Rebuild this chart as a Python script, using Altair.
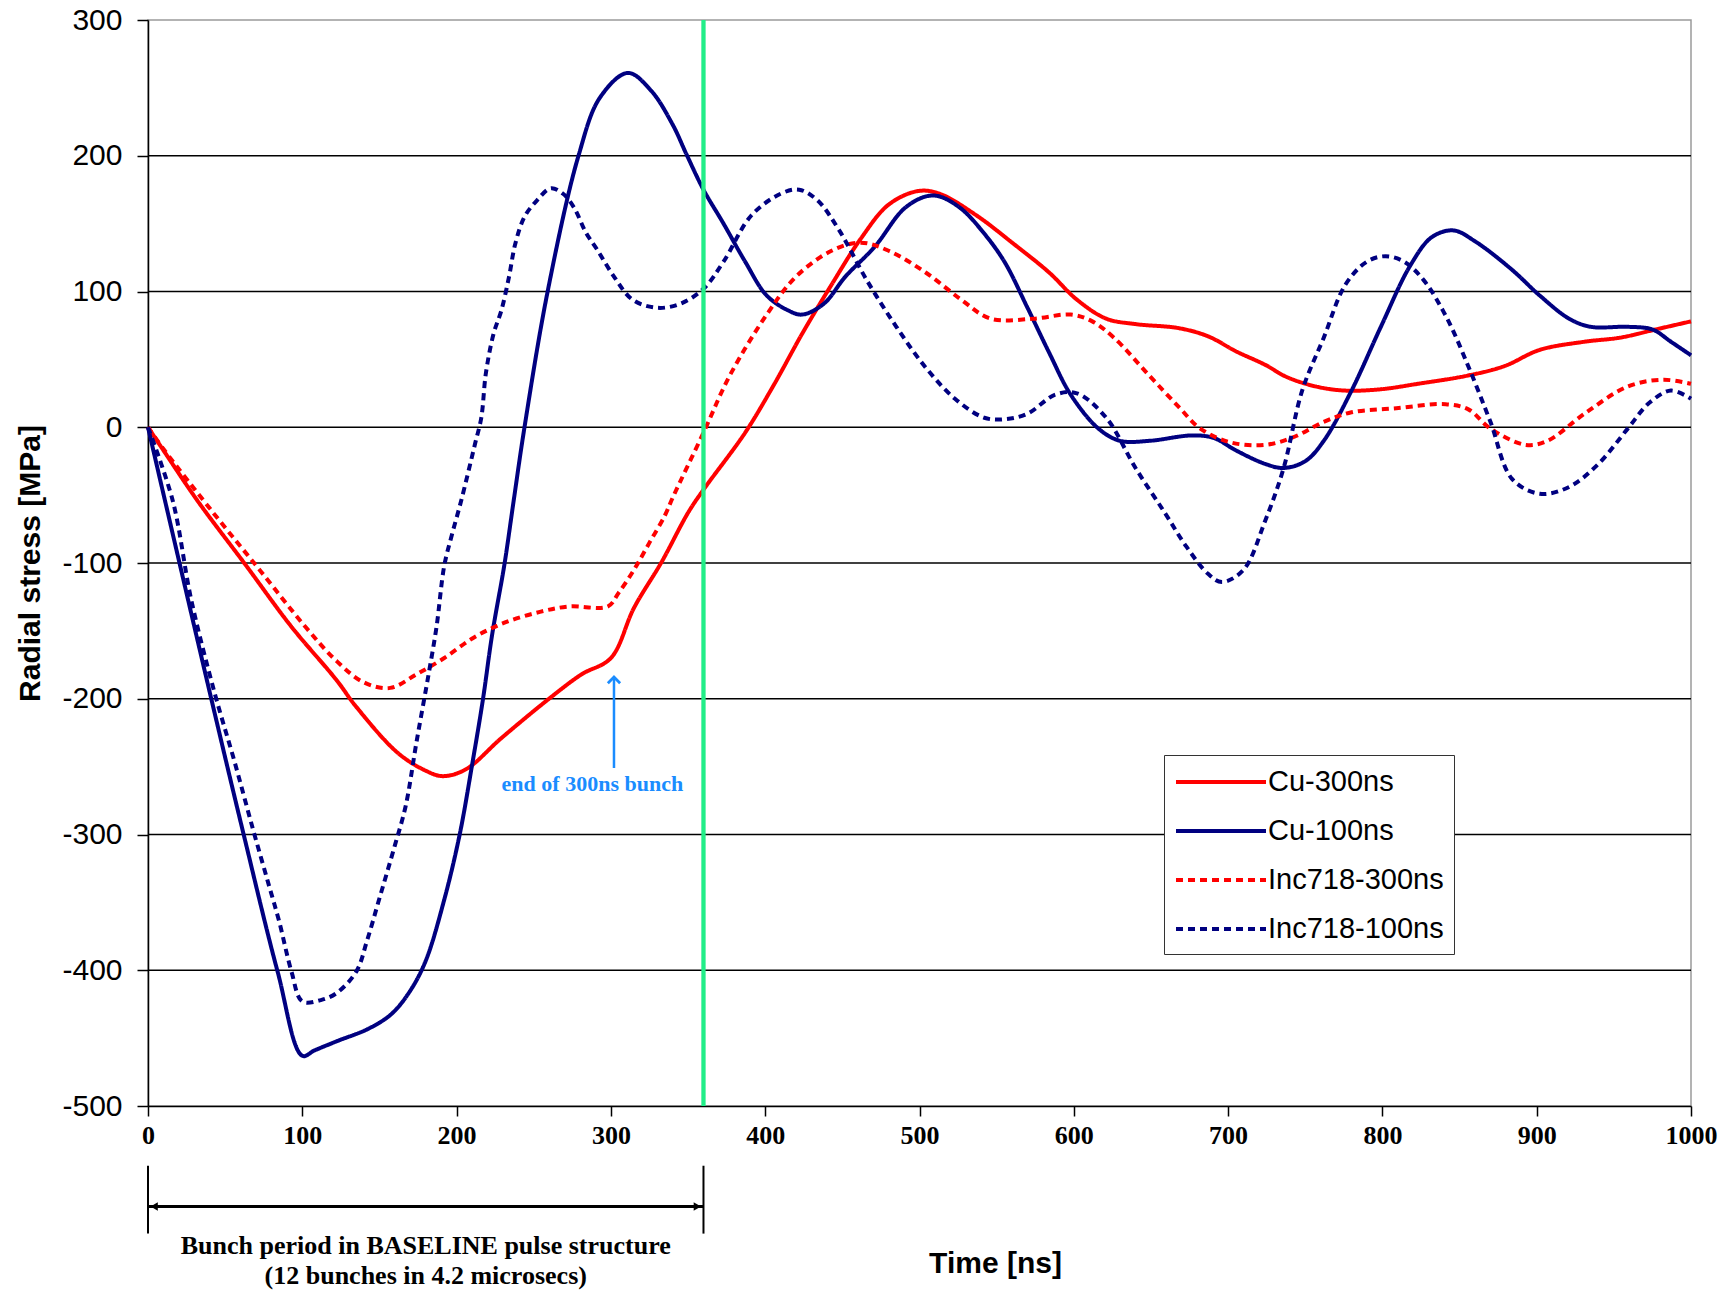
import altair as alt
import pandas as pd

# ---------------- data ----------------
cu300_x = [0, 10, 32, 63, 93, 122, 135, 162, 180, 191, 206, 229, 261, 281, 300, 315, 333, 350, 360,
           387, 406, 424, 443, 462, 480, 499, 513, 537, 560, 584, 602, 621, 640, 668, 687, 705, 724,
           738, 757, 776, 799, 823, 855, 879, 902, 931, 954, 977, 1000]
cu300_y = [0, -17, -54, -101, -147, -186, -206, -240, -253, -257, -252, -229, -199, -182, -170, -133, -99, -63, -46,
           -4, 32, 69, 105, 139, 164, 174, 172, 156, 136, 114, 94, 80, 76, 73, 67, 56, 46,
           37, 30, 27, 28, 32, 38, 45, 57, 63, 66, 72, 78]

cu100_x = [0, 11, 41, 62, 84, 100, 108, 123, 143, 158, 170, 180, 192, 202, 210, 217, 223, 231, 237, 244,
           259, 279, 293, 311, 326, 340, 349, 360, 373, 387, 401, 415, 424, 438, 452, 471, 490, 504, 513,
           527, 541, 555, 570, 584, 598, 616, 630, 649, 677, 691, 705, 724, 736, 750, 762, 780, 799, 818,
           832, 846, 860, 884, 902, 921, 935, 959, 975, 987, 1000]
cu100_y = [0, -54, -200, -300, -401, -463, -459, -452, -443, -432, -415, -393, -348, -300, -249, -201, -153, -101, -54, 0,
           100, 200, 243, 261, 248, 223, 201, 175, 150, 122, 97, 86, 83, 91, 111, 133, 161, 170, 170,
           161, 144, 122, 88, 55, 24, -1, -10, -10, -6, -8, -17, -27, -30, -25, -10, 27, 74, 119,
           140, 145, 137, 116, 97, 80, 74, 74, 72, 63, 53]

inc300_x = [0, 10, 43, 73, 102, 122, 140, 157, 174, 192, 211, 231, 254, 273, 298, 305, 315, 325, 335, 340,
            360, 377, 401, 420, 443, 462, 480, 504, 527, 546, 574, 598, 612, 626, 649, 668, 682, 701, 724,
            743, 762, 780, 809, 841, 856, 870, 893, 907, 931, 959, 982, 1000]
inc300_y = [0, -16, -64, -106, -147, -172, -188, -192, -182, -170, -155, -144, -136, -132, -132, -122, -105, -85, -65, -52,
            -4, 38, 83, 111, 130, 136, 130, 114, 94, 80, 80, 83, 78, 66, 38, 15, -1, -11, -13,
            -7, 4, 11, 14, 17, 13, -1, -13, -10, 10, 30, 35, 32]

inc100_x = [0, 16, 28, 43, 56, 68, 78, 85, 93, 100, 112, 122, 135, 142, 150, 160, 167, 174, 182, 187, 192,
            197, 203, 212, 216, 219, 224, 229, 234, 238, 244, 252, 261, 269, 276, 284, 291, 302, 314, 330,
            345, 360, 373, 391, 410, 422, 434, 448, 466, 485, 504, 523, 542, 556, 570, 588, 602, 621, 640,
            659, 673, 687, 696, 710, 724, 736, 748, 762, 776, 790, 802, 814, 827, 842, 856, 870, 884, 902,
            921, 940, 959, 973, 987, 1000]
inc100_y = [0, -54, -127, -195, -246, -296, -336, -364, -401, -423, -422, -417, -401, -378, -347, -308, -279, -232, -181, -147, -102,
            -79, -54, -12, 7, 40, 69, 86, 111, 135, 155, 167, 176, 172, 162, 143, 131, 111, 94, 88,
            91, 102, 122, 156, 172, 175, 167, 145, 108, 74, 44, 21, 7, 6, 10, 24, 25, 7, -30,
            -63, -88, -108, -114, -105, -69, -30, 27, 66, 105, 122, 126, 122, 108, 80, 44, 4, -38, -49,
            -44, -27, -1, 18, 27, 21]

series_names = ["Cu-300ns", "Cu-100ns", "Inc718-300ns", "Inc718-100ns"]
series_colors = ["#FF0000", "#000080", "#FF0000", "#000080"]
series_dash = [[1, 0], [1, 0], [7, 5], [7, 5]]

x_ticks = list(range(0, 1001, 100))
y_ticks = list(range(-500, 301, 100))
grid_values = [-400, -300, -200, -100, 0, 100, 200]

bunch_end = 360            # green line, ns
arrow_x = [302]            # "end of 300ns bunch" arrow
arrow_tip = [-184]
arrow_base = [-251]
arrow_label = ["end of 300ns bunch"]
arrow_label_x = [288]
arrow_label_y = [-263]

bracket_start = 0
bracket_end = 360
bracket_level = -574
bracket_top = -544
bracket_bottom = -594
bracket_text = ["Bunch period in BASELINE pulse structure", "(12 bunches in 4.2 microsecs)"]
bracket_text_y = [-603, -625]

# ---------------- build tables ----------------
rows = []
for name, xs, ys in [("Cu-300ns", cu300_x, cu300_y), ("Cu-100ns", cu100_x, cu100_y),
                     ("Inc718-300ns", inc300_x, inc300_y), ("Inc718-100ns", inc100_x, inc100_y)]:
    for i, (xv, yv) in enumerate(zip(xs, ys)):
        rows.append({"series": name, "t": xv, "stress": yv, "order": i})
df = pd.DataFrame(rows)

xscale = alt.Scale(domain=[0, 1000], nice=False, zero=False)
yscale = alt.Scale(domain=[-500, 300], nice=False, zero=False)

xaxis = alt.Axis(values=x_ticks, grid=False, tickSize=10, tickWidth=1.5, tickColor="black",
                 domainColor="black", domainWidth=1.5, labelExpr="'' + datum.value",
                 labelFlush=False, labelOverlap=False,
                 labelFont="Liberation Serif", labelFontWeight="bold", labelFontSize=26,
                 labelColor="black", labelPadding=6,
                 title="Time [ns]", titleFont="Liberation Sans", titleFontWeight="bold",
                 titleFontSize=30, titleColor="black", titleX=847, titleY=157,
                 titleAlign="center", titleBaseline="middle", titleAnchor="start")
yaxis = alt.Axis(values=y_ticks, grid=False, tickSize=11, tickWidth=1.5, tickColor="black",
                 domainColor="black", domainWidth=1.5, labelExpr="'' + datum.value",
                 labelFlush=False, labelOverlap=False,
                 labelFont="Liberation Sans", labelFontSize=30, labelColor="black", labelPadding=15,
                 title="Radial stress [MPa]", titleFont="Liberation Sans", titleFontWeight="bold",
                 titleFontSize=30, titleColor="black", titleX=-118, titleY=543,
                 titleAlign="center", titleBaseline="middle", titleAngle=270, titleAnchor="start")

grid = alt.Chart(pd.DataFrame({"g": grid_values})).mark_rule(color="black", strokeWidth=1.5).encode(
    y=alt.Y("g:Q", scale=yscale, axis=yaxis)
)

lines = alt.Chart(df).mark_line(strokeWidth=4, strokeCap="butt", strokeJoin="round",
                                interpolate="catmull-rom").encode(
    x=alt.X("t:Q", scale=xscale, axis=xaxis),
    y=alt.Y("stress:Q", scale=yscale, axis=yaxis),
    color=alt.Color("series:N", scale=alt.Scale(domain=series_names, range=series_colors), title=None),
    strokeDash=alt.StrokeDash("series:N", scale=alt.Scale(domain=series_names, range=series_dash), title=None),
    order="order:Q",
)

green = alt.Chart(pd.DataFrame({"t": [bunch_end]})).mark_rule(color="#22EE88", strokeWidth=4.3).encode(
    x=alt.X("t:Q", scale=xscale)
)

ann = pd.DataFrame({"x": arrow_x, "tip": arrow_tip, "base": arrow_base,
                    "label": arrow_label, "lx": arrow_label_x, "ly": arrow_label_y})
arrow_line = alt.Chart(ann).mark_rule(color="#1A8CFF", strokeWidth=2.5).encode(
    x=alt.X("x:Q", scale=xscale), y=alt.Y("tip:Q", scale=yscale), y2="base:Q"
)
arrow_head = alt.Chart(ann).mark_point(shape="M-1,1L0,0L1,1", size=150, color="#1A8CFF",
                                       filled=False, strokeWidth=2.8, opacity=1).encode(
    x=alt.X("x:Q", scale=xscale), y=alt.Y("tip:Q", scale=yscale)
)
arrow_text = alt.Chart(ann).mark_text(font="Liberation Serif", fontWeight="bold", fontSize=22,
                                      color="#1A8CFF", baseline="middle", align="center").encode(
    x=alt.X("lx:Q", scale=xscale), y=alt.Y("ly:Q", scale=yscale), text="label:N"
)

br = pd.DataFrame({"x1": [bracket_start], "x2": [bracket_end], "y": [bracket_level]})
bracket_h = alt.Chart(br).mark_rule(color="black", strokeWidth=3).encode(
    x=alt.X("x1:Q", scale=xscale), x2="x2:Q", y=alt.Y("y:Q", scale=yscale)
)
brv = pd.DataFrame({"x": [bracket_start, bracket_end], "y1": [bracket_top] * 2, "y2": [bracket_bottom] * 2})
bracket_v = alt.Chart(brv).mark_rule(color="black", strokeWidth=2).encode(
    x=alt.X("x:Q", scale=xscale), y=alt.Y("y1:Q", scale=yscale), y2="y2:Q"
)
brh = pd.DataFrame({"x": [bracket_start + 4, bracket_end - 4], "y": [bracket_level] * 2,
                    "shape": ["triangle-left", "triangle-right"]})
bracket_heads = alt.Chart(brh).mark_point(filled=True, color="black", size=70, opacity=1).encode(
    x=alt.X("x:Q", scale=xscale), y=alt.Y("y:Q", scale=yscale),
    shape=alt.Shape("shape:N", scale=None, legend=None)
)
brt = pd.DataFrame({"x": [(bracket_start + bracket_end) / 2] * 2, "y": bracket_text_y, "t": bracket_text})
bracket_txt = alt.Chart(brt).mark_text(font="Liberation Serif", fontWeight="bold", fontSize=26,
                                       color="black", baseline="middle", align="center").encode(
    x=alt.X("x:Q", scale=xscale), y=alt.Y("y:Q", scale=yscale), text="t:N"
)

chart = alt.layer(grid, lines, green, arrow_line, arrow_head, arrow_text,
                  bracket_h, bracket_v, bracket_heads, bracket_txt).properties(
    width=1543, height=1086,
    autosize=alt.AutoSizeParams(type="none"),
    padding={"left": 148, "top": 20, "right": 42, "bottom": 184},
    background="white",
).configure_view(stroke="#9a9a9a", strokeWidth=1.5).configure_legend(
    orient="none", legendX=1016, legendY=735,
    symbolType="M-1,0H5", symbolSize=900, symbolStrokeWidth=4,
    labelFont="Liberation Sans", labelFontSize=29, labelColor="black", labelOffset=60,
    labelLimit=500, rowPadding=17, padding=10, strokeColor="#333333", fillColor="white",
    symbolLimit=10,
)

chart.save("out.html", embed_options={"renderer": "svg", "actions": False})
